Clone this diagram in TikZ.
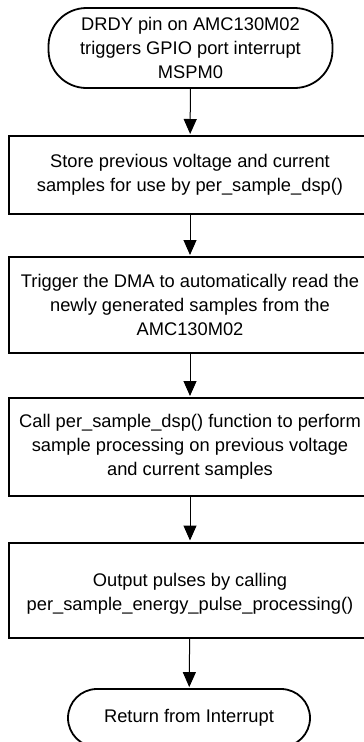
\documentclass[tikz,border=0pt]{standalone}
\usepackage{fontspec}
\setmainfont{Liberation Sans}
\usetikzlibrary{arrows.meta}
\begin{document}
\begin{tikzpicture}[x=1pt,y=-1pt,
  txt/.style={align=center, font=\fontsize{18.3}{24}\selectfont, inner sep=0pt},
  box/.style={txt, draw, line width=2pt, minimum width=362pt},
  term/.style={txt, draw, line width=1.8pt},
  arr/.style={-{Triangle[width=13pt,length=15pt]}, line width=1pt, shorten >=1pt}]
\useasboundingbox (0,0) rectangle (364,742);
\node[term, rounded corners=38pt, minimum width=284pt, minimum height=80pt] (start) at (190.5,48)
  {DRDY pin on AMC130M02\\triggers GPIO port interrupt\\MSPM0};
\node[box, minimum height=78pt] (b1) at (190,175)
  {Store previous voltage and current\\samples for use by per\_sample\_dsp()};
\node[box, minimum height=96pt] (b2) at (190,305)
  {Trigger the DMA to automatically read the\\newly generated samples from the\\AMC130M02};
\node[box, minimum height=98pt] (b3) at (190,447)
  {Call per\_sample\_dsp() function to perform\\sample processing on previous voltage\\and current samples};
\node[box, minimum height=95pt] (b4) at (190,590) {};
\node[txt] (b4t) at (190,594)
  {Output pulses by calling\\per\_sample\_energy\_pulse\_processing()};
\node[term, rounded corners=29pt, minimum width=242pt, minimum height=58pt] (end) at (189,718)
  {Return from Interrupt};
\draw[arr] (start) -- (b1);
\draw[arr] (b1) -- (b2);
\draw[arr] (b2) -- (b3);
\draw[arr] (b3) -- (b4);
\draw[arr] (b4) -- (end);
\end{tikzpicture}
\end{document}
